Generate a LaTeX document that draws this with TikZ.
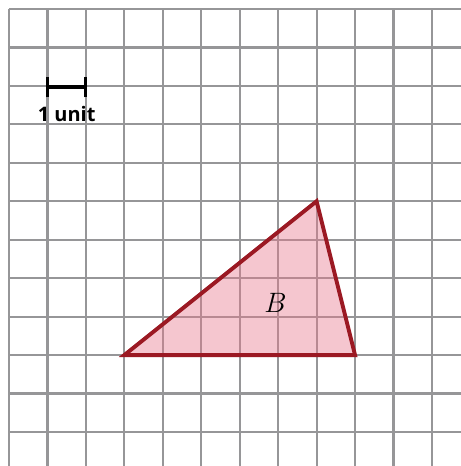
\documentclass[tikz,border=0pt]{standalone}
\usepackage{fontspec}
\setsansfont{Open Sans}
\begin{document}
\begin{tikzpicture}[
  gridline/.style={draw={rgb,255:red,150;green,150;blue,152}, line width=1.6pt},
  tri/.style={draw={rgb,255:red,155;green,25;blue,35}, line width=2.9pt, line join=miter,
              fill={rgb,255:red,232;green,120;blue,140}, fill opacity=0.42},
  bar/.style={draw=black, line width=2.9pt},
]
\useasboundingbox (-0.234,0.234) rectangle (11.756,-11.886);
% grid
\foreach \i in {0,...,11} {
  \draw[gridline] (\i,0) -- (\i,-11.886);
  \draw[gridline] (0,-\i) -- (11.756,-\i);
}
% scale bar
\coordinate (s1) at (1,-2.03);
\coordinate (s2) at (2,-2.03);
\draw[bar] (s1) -- (s2);
\draw[bar, line width=2.3pt] ([yshift=-0.27cm]s1) -- ([yshift=0.27cm]s1);
\draw[bar, line width=2.3pt] ([yshift=-0.27cm]s2) -- ([yshift=0.27cm]s2);
\node[font=\sffamily\bfseries\fontsize{14.8}{17}\selectfont, inner sep=0pt] (lab) at (1.5,-2.73) {1 unit};
% triangle
\coordinate (A) at (3,-9);
\coordinate (T) at (8,-5);
\coordinate (C) at (9,-9);
\draw[tri] (A) -- (T) -- (C) -- cycle;
\node[inner sep=0pt, font=\fontsize{21}{24}\selectfont] (B) at (6.93,-7.65) {$B$};
\end{tikzpicture}
\end{document}
